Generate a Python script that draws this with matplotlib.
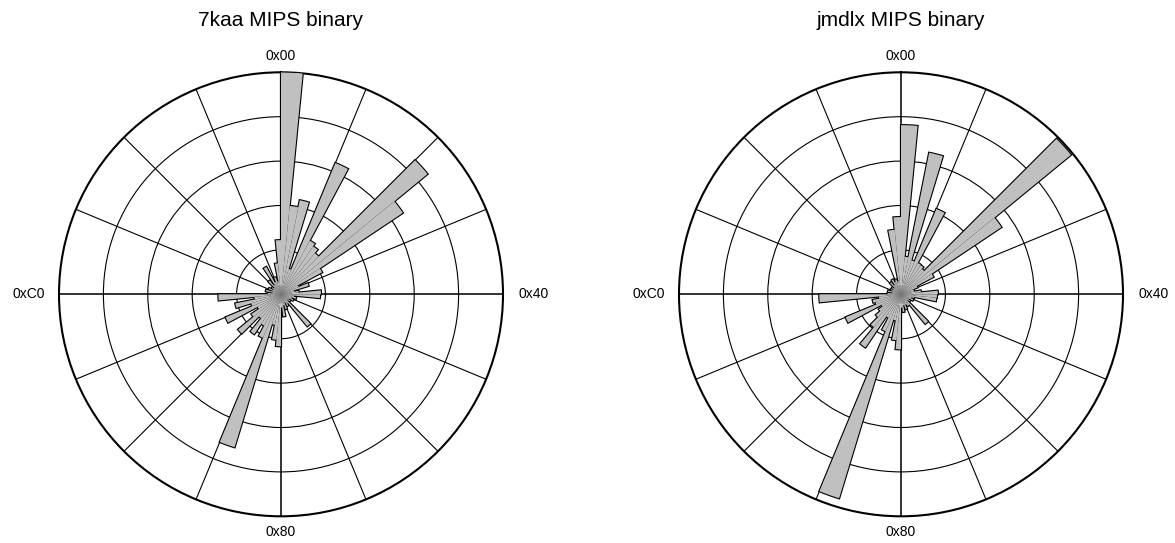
import numpy as np
import matplotlib.pyplot as plt

plt.rcParams['font.family'] = ['Liberation Sans', 'DejaVu Sans']

titles = ["7kaa MIPS binary", "jmdlx MIPS binary"]
tick_labels = ["0x00", "0x40", "0x80", "0xC0"]

# byte histogram, 64 bins of 4 byte values each (0x00-0x03, 0x04-0x07, ...)
# heights in units of the radial grid rings
bins_7kaa = [
    5.00, 2.00, 2.16, 0.60, 3.20, 1.37, 1.30, 1.20,   # 0x00-0x1F
    4.27, 3.30, 1.05, 0.43, 0.65, 0.30, 0.40, 0.90,   # 0x20-0x3F
    0.88, 0.30, 0.35, 0.25, 0.30, 0.20, 0.25, 0.20,   # 0x40-0x5F
    0.93, 0.25, 0.30, 0.20, 0.35, 0.25, 0.50, 0.30,   # 0x60-0x7F
    1.17, 1.03, 0.70, 3.60, 1.06, 0.80, 1.08, 0.70,   # 0x80-0x9F
    1.25, 0.80, 0.60, 1.35, 0.70, 1.05, 0.60, 1.41,   # 0xA0-0xBF
    0.30, 0.20, 0.35, 0.20, 0.30, 0.20, 0.25, 0.20,   # 0xC0-0xDF
    0.40, 0.25, 0.70, 0.30, 0.40, 0.30, 0.70, 1.22,   # 0xE0-0xFF
]
bins_jmdlx = [
    3.81, 0.85, 3.25, 0.80, 2.08, 0.80, 0.79, 0.74,   # 0x00-0x1F
    4.95, 2.72, 0.83, 0.40, 0.30, 0.30, 0.45, 0.83,   # 0x20-0x3F
    0.81, 0.80, 0.30, 0.25, 0.30, 0.20, 0.25, 0.20,   # 0x40-0x5F
    0.86, 0.30, 0.30, 0.25, 0.35, 0.25, 0.40, 0.30,   # 0x60-0x7F
    1.24, 1.04, 0.60, 4.80, 0.90, 0.60, 1.44, 0.96,   # 0x80-0x9F
    0.73, 0.60, 0.50, 1.35, 0.60, 0.65, 0.50, 1.84,   # 0xA0-0xBF
    0.30, 0.20, 0.30, 0.20, 0.25, 0.20, 0.25, 0.20,   # 0xC0-0xDF
    0.35, 0.25, 0.38, 0.30, 0.35, 0.30, 1.46, 1.74,   # 0xE0-0xFF
]

fig = plt.figure(figsize=(11.75, 5.43), dpi=100)
W, H = 1175.0, 543.0
R = 222.0
centers = [(281, 294.3), (901, 294.3)]

# where the four angle labels sit, in axes fraction (top, right, bottom, left)
label_pos = [(0.5, 1.036), (1.068, 0.5), (0.5, -0.036), (-0.068, 0.5)]

for k, (data, title) in enumerate(zip([bins_7kaa, bins_jmdlx], titles)):
    cx, cy = centers[k]
    ax = fig.add_axes([(cx - R) / W, (H - cy - R) / H, 2 * R / W, 2 * R / H],
                      projection='polar')
    ax.set_theta_zero_location('N')
    ax.set_theta_direction(-1)

    n = len(data)
    theta = np.arange(n) * 2 * np.pi / n
    width = 2 * np.pi / n
    # outline first, then fill on top so only the outer contour stays black
    ax.bar(theta, data, width=width, align='edge', facecolor='none',
           edgecolor='black', linewidth=1.6, zorder=3)
    ax.bar(theta, data, width=width, align='edge', facecolor='#c0c0c0',
           edgecolor='none', linewidth=0, zorder=4)

    ax.set_ylim(0, 5)
    ax.set_yticks([1, 2, 3, 4])
    ax.set_yticklabels([])
    ax.set_thetagrids(np.arange(0, 360, 22.5), [''] * 16)
    ax.grid(True, color='black', linewidth=0.8)
    for i, gl in enumerate(ax.xaxis.get_gridlines()):
        if i % 4 == 0:
            gl.set_linewidth(1.4)
            gl.set_color('#333333')
    ax.spines['polar'].set_linewidth(1.5)

    for lab, (px, py) in zip(tick_labels, label_pos):
        ax.text(px, py, lab, transform=ax.transAxes, ha='center',
                va='center', fontsize=10)

    fig.text(cx / W, 1 - 21 / H, title, ha='center', va='center', fontsize=15)

fig.savefig('out.png', dpi=100)
